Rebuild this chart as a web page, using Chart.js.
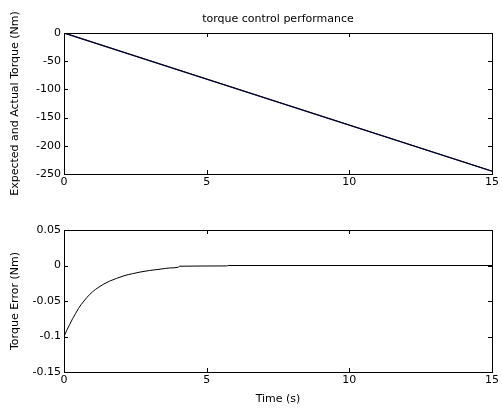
<!DOCTYPE html>
<html><head><meta charset="utf-8">
<script src="https://cdn.jsdelivr.net/npm/chart.js@4/dist/chart.umd.min.js"></script>
<style>
html,body{margin:0;padding:0;background:#fff;}
#wrap{position:relative;width:502px;height:410px;}
.c{position:absolute;left:0;width:502px;height:205px;}
</style></head>
<body><div id="wrap">
<div class="c" style="top:0"><canvas id="top"></canvas></div>
<div class="c" style="top:205px"><canvas id="bot"></canvas></div>
</div>
<script>
// ---- data ----
const torqueTime = [0, 5, 10, 15];
const torqueExpected = [0, -81.7, -163.3, -245];
const torqueActual = [0, -81.7, -163.3, -245];
const errTime = [0, 0.1, 0.2, 0.3, 0.4, 0.5, 0.6, 0.7, 0.8, 0.9, 1.0, 1.2, 1.4, 1.6, 1.85, 2.1, 2.4, 2.7, 3.0, 3.4, 3.7, 4.0, 4.05, 5.7, 5.75, 15];
const errVals = [-0.100, -0.091, -0.083, -0.075, -0.068, -0.061, -0.055, -0.050, -0.045, -0.041, -0.037, -0.031, -0.026, -0.022, -0.018, -0.0145, -0.0115, -0.009, -0.007, -0.005, -0.0035, -0.0025, -0.001, -0.0006, 0, 0];
const xTicks = [0, 5, 10, 15];
const topYTicks = [0, -50, -100, -150, -200, -250];
const topYLabels = ['0', '-50', '-100', '-150', '-200', '-250'];
const botYTicks = [0.05, 0, -0.05, -0.1, -0.15];
const botYLabels = ['0.05', '0', '-0.05', '-0.1', '-0.15'];
const topTitle = 'torque control performance';

const FONT = "'DejaVu Sans', sans-serif";
Chart.defaults.font.family = FONT;
Chart.defaults.color = '#000';

const boxPlugin = {
  id: 'box',
  afterDraw(chart, args, opts) {
    const {ctx, chartArea: a, scales} = chart;
    ctx.save();
    ctx.strokeStyle = '#000';
    ctx.lineWidth = 1;
    ctx.strokeRect(Math.round(a.left) + 0.5, Math.round(a.top) + 0.5, Math.round(a.right - a.left), Math.round(a.bottom - a.top));
    const L = 4;
    ctx.beginPath();
    scales.x.ticks.forEach(t => {
      const px = Math.round(scales.x.getPixelForValue(t.value)) + 0.5;
      ctx.moveTo(px, a.bottom); ctx.lineTo(px, a.bottom - L);
      ctx.moveTo(px, a.top); ctx.lineTo(px, a.top + L);
    });
    scales.y.ticks.forEach(t => {
      const py = Math.round(scales.y.getPixelForValue(t.value)) + 0.5;
      ctx.moveTo(a.left, py); ctx.lineTo(a.left + L, py);
      ctx.moveTo(a.right, py); ctx.lineTo(a.right - L, py);
    });
    ctx.stroke();
    if (opts && opts.title) {
      ctx.fillStyle = '#000';
      ctx.font = '11px ' + FONT;
      ctx.textAlign = 'center';
      ctx.textBaseline = 'middle';
      ctx.fillText(opts.title, (a.left + a.right) / 2, 19);
    }
    ctx.restore();
  }
};

function axes(yMin, yMax, yTicks, yLabels, yTitle, xTitle, xHeight) {
  return {
    x: {
      type: 'linear', min: 0, max: 15,
      afterBuildTicks: s => { s.ticks = xTicks.map(v => ({value: v})); },
      ticks: { font: {size: 11}, padding: 2, maxRotation: 0, callback: v => String(v) },
      grid: { drawOnChartArea: false, drawTicks: false },
      border: { display: false },
      title: xTitle ? { display: true, text: xTitle, font: {size: 11}, padding: {top: 0, bottom: 4} } : { display: false },
      afterFit: s => { s.height = xHeight; }
    },
    y: {
      type: 'linear', min: yMin, max: yMax,
      afterBuildTicks: s => { s.ticks = yTicks.map(v => ({value: v})); },
      ticks: { font: {size: 11}, padding: 3, callback: (v, i) => yLabels[yTicks.indexOf(v)] ?? String(v) },
      grid: { drawOnChartArea: false, drawTicks: false },
      border: { display: false },
      title: { display: true, text: yTitle, font: {size: 11}, padding: {top: 9, bottom: 0} },
      afterFit: s => { s.width = 64; }
    }
  };
}

new Chart(document.getElementById('top'), {
  type: 'line',
  data: {
    datasets: [
      { label: 'Actual', data: torqueTime.map((t, i) => ({x: t, y: torqueActual[i]})), borderColor: '#000000', borderWidth: 1, pointRadius: 0, tension: 0 },
      { label: 'Expected', data: torqueTime.map((t, i) => ({x: t, y: torqueExpected[i]})), borderColor: '#1c1c8c', borderWidth: 1.4, pointRadius: 0, tension: 0 }
    ]
  },
  options: {
    responsive: true, maintainAspectRatio: false, animation: false,
    layout: { padding: { left: 0, right: 10, top: 33, bottom: 0 } },
    plugins: { legend: {display: false}, tooltip: {enabled: false}, box: { title: topTitle } },
    scales: axes(-250, 0, topYTicks, topYLabels, 'Expected and Actual Torque (Nm)', null, 31)
  },
  plugins: [boxPlugin]
});

new Chart(document.getElementById('bot'), {
  type: 'line',
  data: {
    datasets: [
      { label: 'Error', data: errTime.map((t, i) => ({x: t, y: errVals[i]})), borderColor: '#000000', borderWidth: 1, pointRadius: 0, cubicInterpolationMode: 'monotone' }
    ]
  },
  options: {
    responsive: true, maintainAspectRatio: false, animation: false,
    layout: { padding: { left: 0, right: 10, top: 25, bottom: 0 } },
    plugins: { legend: {display: false}, tooltip: {enabled: false}, box: {} },
    scales: axes(-0.15, 0.05, botYTicks, botYLabels, 'Torque Error (Nm)', 'Time (s)', 38)
  },
  plugins: [boxPlugin]
});
</script>
</body></html>
